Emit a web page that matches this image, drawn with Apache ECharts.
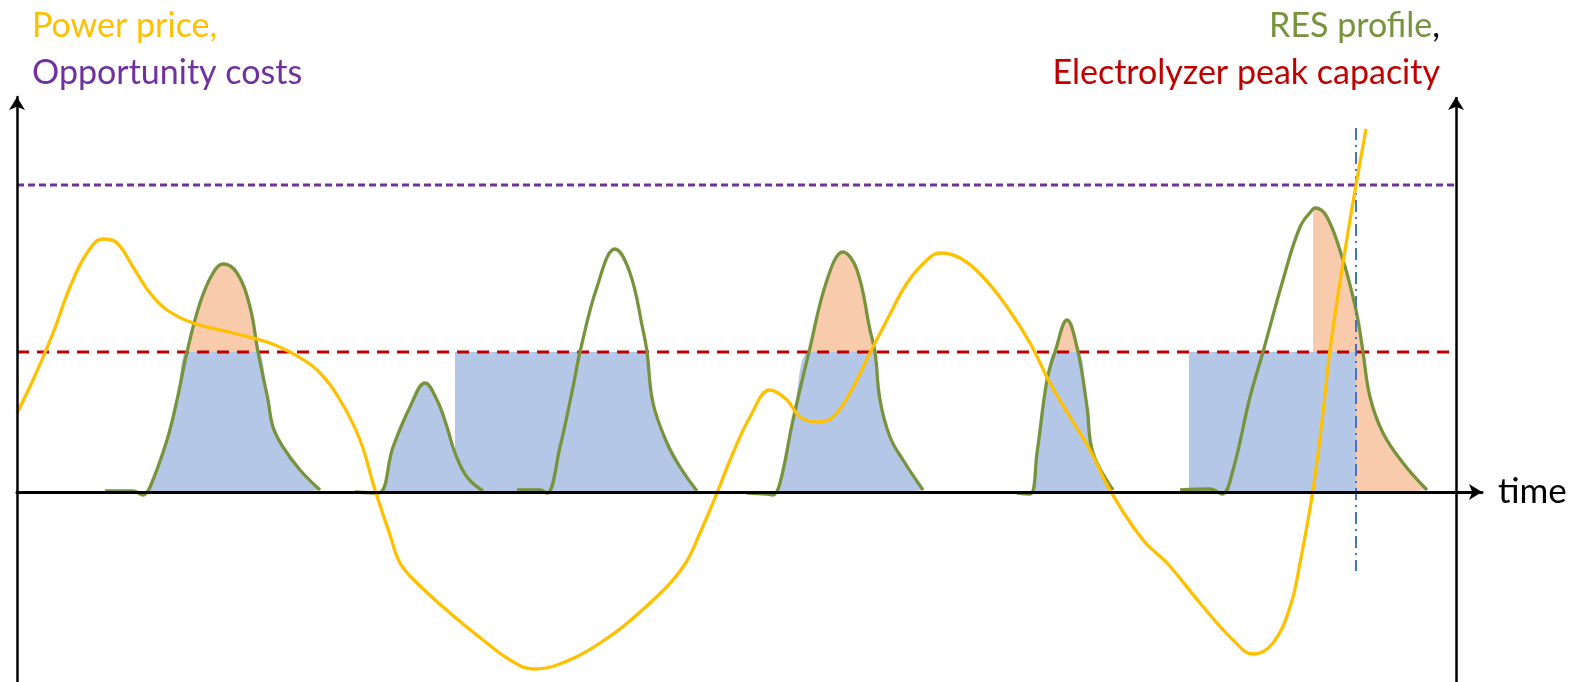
<!DOCTYPE html>
<html>
<head>
<meta charset="utf-8">
<script src="https://cdn.jsdelivr.net/npm/echarts@6/dist/echarts.min.js"></script>
<style>html,body{margin:0;padding:0;background:#fff}#c{width:1573px;height:682px}</style>
</head>
<body>
<div id="c"></div>
<script>
// ---- data (time units, output units; 0 = zero line) ----
const capacity = 140;          // electrolyzer peak capacity
const opportunityCost = 307;   // opportunity costs level
const timeEnd = 1439;          // right axis position
const curtailStart = 1296;     // start of curtailment in last block
const crossTime = 1339;        // price crosses opportunity costs
const markerTop = 364, markerBottom = -79;

const resSeg1 = [[88,1],[116,1],[126,-3],[133,5],[150,52],[160,92],[170,140],[183,189],[196,219],[206,228],[220,219],[233,185],[241,140],[251,92],[256,65],[266,45],[283,22],[303,2]];
const resSeg2 = [[338,0],[361,-1],[376,45],[393,85],[408,109],[420,92],[430,65],[438,39],[450,15],[466,1]];
const resSeg3 = [[500,2],[523,2],[530,-1],[543,45],[556,105],[563,140],[580,205],[598,243],[613,219],[626,162],[630,140],[636,89],[650,49],[663,25],[680,1]];
const resSeg4 = [[730,-1],[750,-2],[756,-3],[763,9],[776,72],[792,140],[810,212],[826,240],[840,222],[853,162],[858,140],[863,92],[873,55],[886,32],[906,2]];
const resSeg5 = [[1000,-1],[1013,-2],[1020,39],[1030,112],[1038,140],[1050,172],[1061,140],[1070,85],[1076,39],[1096,2]];
const resSeg6 = [[1163,2],[1193,3],[1205,-2],[1216,22],[1233,95],[1246,140],[1266,212],[1283,265],[1296,283],[1298,284],[1310,275],[1326,232],[1336,195],[1341,172],[1346,140],[1353,95],[1366,59],[1386,29],[1410,2]];

const powerPrice = [[0,79],[16,112],[36,159],[53,205],[70,239],[86,253],[100,249],[116,225],[133,199],[150,182],[176,169],[216,159],[250,150],[273,140],[300,122],[323,92],[343,52],[358,2],[373,-43],[383,-71],[400,-91],[433,-121],[466,-148],[493,-168],[516,-177],[540,-173],[583,-151],[633,-111],[666,-75],[683,-41],[700,-1],[716,39],[733,75],[753,102],[770,92],[783,75],[801,70],[816,75],[833,99],[853,139],[870,172],[890,209],[910,232],[923,239],[943,234],[966,215],[990,185],[1013,149],[1033,109],[1053,75],[1073,42],[1093,2],[1126,-48],[1150,-71],[1183,-111],[1216,-148],[1236,-162],[1256,-151],[1273,-115],[1283,-71],[1296,2],[1306,79],[1313,142],[1326,229],[1339,307],[1349,363]];

// blocks where electrolyzer runs at full capacity
const fullLoadBlocks = [[438,630],[1172,1339]];

// ---- build ----
const FONT = 'Lato';
const C = {price:'#FFC000', opp:'#7030A0', res:'#77933C', cap:'#C00000', blue:'#B4C7E7', orange:'#F8CBAD', marker:'#4472C4'};
const SM = 0.4;

const resSegs = [resSeg1,resSeg2,resSeg3,resSeg4,resSeg5,resSeg6];
const series = [];

// curtailed (orange) areas: under RES curve, covered below capacity by blue
[resSeg1, resSeg4, resSeg5].forEach(seg => series.push({
  type:'line', data: seg.map(p=>[p[0], Math.max(0,p[1])]), smooth:SM, showSymbol:false,
  lineStyle:{width:0}, areaStyle:{color:C.orange, opacity:1}, z:1, silent:true
}));
series.push({
  type:'line', data: resSeg6.filter(p=>p[0]>=curtailStart).map(p=>[p[0], Math.max(0,p[1])]), smooth:SM, showSymbol:false,
  lineStyle:{width:0}, areaStyle:{color:C.orange, opacity:1}, z:1, silent:true
});
// used RES (blue) areas
[resSeg1,resSeg2,resSeg3,resSeg4,resSeg5].forEach(seg => series.push({
  type:'line', data: seg.map(p=>[p[0], Math.max(0, Math.min(capacity, p[1]))]), smooth:SM, showSymbol:false,
  lineStyle:{width:0}, areaStyle:{color:C.blue, opacity:1}, z:2, silent:true
}));
fullLoadBlocks.forEach(b => series.push({
  type:'line', data:[[b[0],capacity],[b[1],capacity]], showSymbol:false,
  lineStyle:{width:0}, areaStyle:{color:C.blue, opacity:1}, z:2, silent:true
}));
// capacity & opportunity cost lines
series.push({type:'line', data:[[0,capacity],[timeEnd,capacity]], showSymbol:false,
  lineStyle:{color:C.cap, width:3, type:[12,8]}, z:3, silent:true});
series.push({type:'line', data:[[0,opportunityCost],[timeEnd,opportunityCost]], showSymbol:false,
  lineStyle:{color:C.opp, width:2.8, type:[7,4]}, z:3, silent:true});
// RES profile line
resSegs.forEach(seg => series.push({
  type:'line', data:seg, smooth:SM, showSymbol:false,
  lineStyle:{color:C.res, width:3.3}, z:4, silent:true
}));
// marker dash-dot
series.push({type:'line', data:[[crossTime,markerTop],[crossTime,markerBottom]], showSymbol:false,
  lineStyle:{color:C.marker, width:2, type:[12,5,2,5]}, z:5, silent:true});
// power price
series.push({type:'line', data:powerPrice, smooth:0.4, showSymbol:false,
  lineStyle:{color:C.price, width:3.3}, z:6, silent:true,
  markLine:{silent:true, symbol:['none','arrow'], symbolSize:[12,13], label:{show:false},
    lineStyle:{color:'#000', width:2.5, type:'solid'},
    data:[[{coord:[timeEnd,-190]},{coord:[timeEnd,395]}]]}
});

const chart = echarts.init(document.getElementById('c'), null, {renderer:'canvas'});
chart.setOption({
  animation:false,
  backgroundColor:'#fff',
  textStyle:{fontFamily:FONT},
  title:[
    {left:32, top:9, padding:0, text:'Power price,', textStyle:{color:C.price, fontSize:34, fontWeight:'normal', fontFamily:FONT}},
    {left:32, top:56, padding:0, text:'Opportunity costs', textStyle:{color:C.opp, fontSize:34, fontWeight:'normal', fontFamily:FONT}},
    {right:133, top:9, padding:0, text:'{g|RES profile}{k|,}', textStyle:{fontSize:34, fontWeight:'normal', fontFamily:FONT,
      rich:{g:{color:C.res, fontSize:34, fontFamily:FONT}, k:{color:'#000', fontSize:34, fontFamily:FONT}}}},
    {right:133, top:56, padding:0, text:'Electrolyzer peak capacity', textStyle:{color:C.cap, fontSize:34, fontWeight:'normal', fontFamily:FONT}}
  ],
  grid:{left:17, right:91, top:97, bottom:0},
  xAxis:{type:'value', min:0, max:1465, z:10,
    axisLine:{show:true, onZero:true, symbol:['none','arrow'], symbolSize:[12,13], lineStyle:{color:'#000', width:3}},
    axisTick:{show:false}, axisLabel:{show:false}, splitLine:{show:false},
    name:'time', nameLocation:'end', nameGap:16,
    nameTextStyle:{color:'#000', fontSize:35, fontFamily:FONT, verticalAlign:'middle'}},
  yAxis:{type:'value', min:-190, max:395, z:10,
    axisLine:{show:true, symbol:['none','arrow'], symbolSize:[12,13], lineStyle:{color:'#000', width:2.5}},
    axisTick:{show:false}, axisLabel:{show:false}, splitLine:{show:false}},
  series: series
});
</script>
</body>
</html>
